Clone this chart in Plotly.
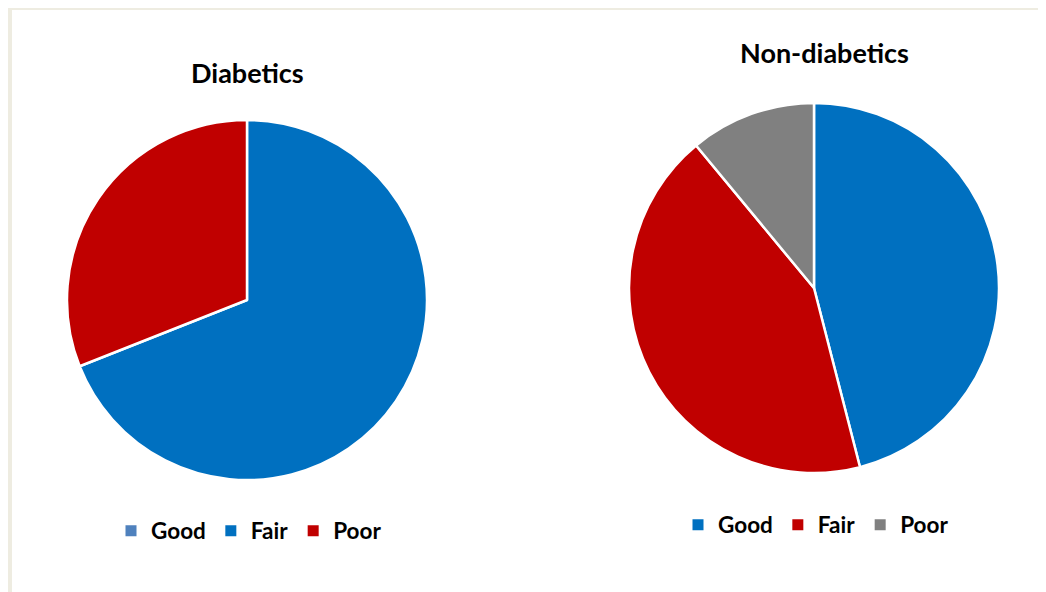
import plotly.graph_objects as go

labels = ["Good", "Fair", "Poor"]
diabetics_values = [0, 69, 31]
non_diabetics_values = [46, 43, 11]
diabetics_colors = ["#4F81BD", "#0070C0", "#C00000"]
non_diabetics_colors = ["#0070C0", "#C00000", "#808080"]

W, H = 1046, 592
OFF = 8  # page body margin
FONT = "Lato"


def px(x):
    return (x - OFF) / W


def py(y):
    return (H - (y - OFF)) / H


fig = go.Figure()
fig.add_trace(go.Pie(
    labels=labels, values=diabetics_values, sort=False, direction="clockwise",
    rotation=0, textinfo="none", hoverinfo="label+value",
    marker=dict(colors=diabetics_colors, line=dict(color="white", width=2.5)),
    domain=dict(x=[px(67), px(427)], y=[py(480), py(120)]),
    showlegend=False,
))
fig.add_trace(go.Pie(
    labels=labels, values=non_diabetics_values, sort=False, direction="clockwise",
    rotation=0, textinfo="none", hoverinfo="label+value",
    marker=dict(colors=non_diabetics_colors, line=dict(color="white", width=2.5)),
    domain=dict(x=[px(629), px(999)], y=[py(473), py(103)]),
    showlegend=False,
))

# legend entries (one legend per pie)
for lab, col in zip(labels, diabetics_colors):
    fig.add_trace(go.Scatter(x=[None], y=[None], mode="markers", name=lab,
                             marker=dict(symbol="square", size=11, color=col),
                             legend="legend", showlegend=True))
for lab, col in zip(labels, non_diabetics_colors):
    fig.add_trace(go.Scatter(x=[None], y=[None], mode="markers", name=lab,
                             marker=dict(symbol="square", size=11, color=col),
                             legend="legend2", showlegend=True))

legend_font = dict(family=FONT, size=22.5, color="black", weight="bold")
fig.update_layout(
    width=W, height=H,
    margin=dict(l=0, r=0, t=0, b=0),
    paper_bgcolor="white", plot_bgcolor="white",
    xaxis=dict(visible=False), yaxis=dict(visible=False),
    legend=dict(orientation="h", x=px(249), y=py(531), xanchor="center", yanchor="middle",
                font=legend_font, bgcolor="rgba(0,0,0,0)", itemclick=False, itemdoubleclick=False),
    legend2=dict(orientation="h", x=px(816), y=py(525), xanchor="center", yanchor="middle",
                 font=legend_font, bgcolor="rgba(0,0,0,0)", itemclick=False, itemdoubleclick=False),
    annotations=[
        dict(text="Diabetics", x=px(247), y=py(72), xref="paper", yref="paper",
             showarrow=False, xanchor="center", yanchor="middle",
             font=dict(family=FONT, size=27, color="black", weight="bold")),
        dict(text="Non-diabetics", x=px(824), y=py(52), xref="paper", yref="paper",
             showarrow=False, xanchor="center", yanchor="middle",
             font=dict(family=FONT, size=27, color="black", weight="bold")),
    ],
    shapes=[
        dict(type="rect", xref="paper", yref="paper",
             x0=px(10), x1=1.2, y0=-0.2, y1=py(8),
             line=dict(color="#EEECE1", width=4), fillcolor="rgba(0,0,0,0)", layer="below"),
    ],
)

fig.write_html("out.html")
